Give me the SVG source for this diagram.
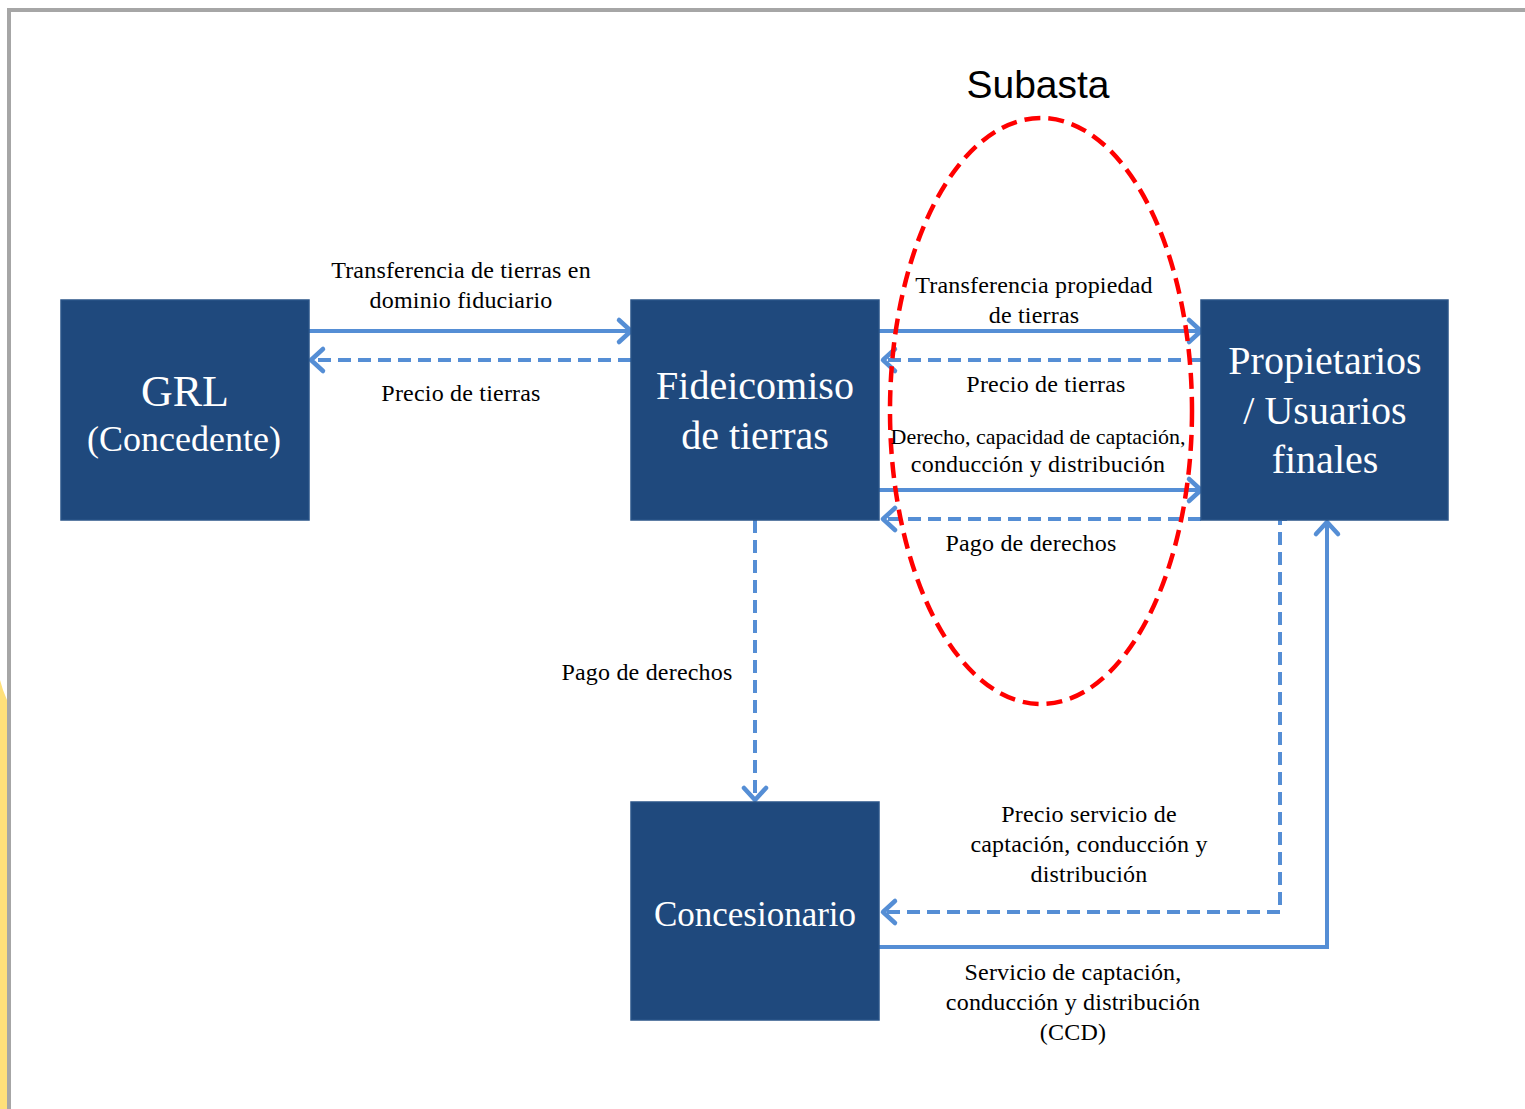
<svg xmlns="http://www.w3.org/2000/svg" width="1525" height="1109" viewBox="0 0 1525 1109">
<defs>
<marker id="ah" markerUnits="userSpaceOnUse" markerWidth="30" markerHeight="30" viewBox="-16 -15 20 30" refX="0" refY="0" orient="auto">
<path d="M-12,-11 L0,0 L-12,11" fill="none" stroke="#558ED5" stroke-width="4.5" stroke-linecap="round" stroke-linejoin="round"/>
</marker>
</defs>
<style>
.box{fill:#1F497D;stroke:#2a5488;stroke-width:1.5}
.bt{font-family:"Liberation Serif","Times New Roman",serif;fill:#ffffff;text-anchor:middle}
.lb{font-family:"Liberation Serif","Times New Roman",serif;fill:#000000;font-size:24px;letter-spacing:0.2px;text-anchor:middle}
.lb.sm{font-size:22px;letter-spacing:0}
.c{fill:none;stroke:#558ED5;stroke-width:4}
.d{stroke-dasharray:13 7}
</style>
<rect x="0" y="0" width="1525" height="1109" fill="#ffffff"/>
<path d="M0,680 L3,690 L7,700 L7,1109 L0,1109 Z" fill="#FFE07A"/>
<path d="M9,1109 L9,10 L1525,10" fill="none" stroke="#a6a6a6" stroke-width="4"/>
<g id="connectors">
<line class="c" x1="309" y1="331" x2="631" y2="331" marker-end="url(#ah)"/>
<line class="c d" x1="631" y1="360" x2="311" y2="360" marker-end="url(#ah)"/>
<line class="c" x1="879" y1="331" x2="1201" y2="331" marker-end="url(#ah)"/>
<line class="c d" x1="1201" y1="360" x2="883" y2="360" marker-end="url(#ah)"/>
<line class="c" x1="879" y1="490" x2="1201" y2="490" marker-end="url(#ah)"/>
<line class="c d" x1="1201" y1="519" x2="883" y2="519" marker-end="url(#ah)"/>
<line class="c d" x1="755" y1="520" x2="755" y2="800" marker-end="url(#ah)"/>
<polyline class="c d" points="1287,519 1280,519 1280,912 883,912" marker-end="url(#ah)"/>
<polyline class="c" points="879,947 1327,947 1327,522" marker-end="url(#ah)"/>
</g>
<g id="subasta">
<ellipse cx="1041" cy="411" rx="151" ry="293" fill="none" stroke="#FF0000" stroke-width="4.5" stroke-dasharray="16 8"/>
<text x="1038" y="98" font-family="Liberation Sans, Arial, sans-serif" font-size="39" text-anchor="middle" fill="#000">Subasta</text>
</g>
<g id="grl">
<rect class="box" x="61" y="300" width="248" height="220"/>
<text class="bt" x="185" y="406" font-size="44">GRL</text>
<text class="bt" x="184" y="451" font-size="36">(Concedente)</text>
</g>
<g id="fideicomiso">
<rect class="box" x="631" y="300" width="248" height="220"/>
<text class="bt" x="755" y="399" font-size="40">Fideicomiso</text>
<text class="bt" x="755" y="449" font-size="40">de tierras</text>
</g>
<g id="propietarios">
<rect class="box" x="1201" y="300" width="247" height="220"/>
<text class="bt" x="1325" y="374" font-size="40">Propietarios</text>
<text class="bt" x="1325" y="424" font-size="40">/ Usuarios</text>
<text class="bt" x="1325" y="473" font-size="40">finales</text>
</g>
<g id="concesionario">
<rect class="box" x="631" y="802" width="248" height="218"/>
<text class="bt" x="755" y="926" font-size="35">Concesionario</text>
</g>
<g id="labels">
<text class="lb" x="461" y="278">Transferencia de tierras en</text>
<text class="lb" x="461" y="308">dominio fiduciario</text>
<text class="lb" x="461" y="401">Precio de tierras</text>
<text class="lb" x="1034" y="293">Transferencia propiedad</text>
<text class="lb" x="1034" y="323">de tierras</text>
<text class="lb" x="1046" y="392">Precio de tierras</text>
<text class="lb sm" x="1038" y="444">Derecho, capacidad  de captación,</text>
<text class="lb" x="1038" y="472">conducción y distribución</text>
<text class="lb" x="1031" y="551">Pago de derechos</text>
<text class="lb" x="647" y="680">Pago de derechos</text>
<text class="lb" x="1089" y="822">Precio servicio  de</text>
<text class="lb" x="1089" y="852">captación, conducción y</text>
<text class="lb" x="1089" y="882">distribución</text>
<text class="lb" x="1073" y="980">Servicio de captación,</text>
<text class="lb" x="1073" y="1010">conducción y distribución</text>
<text class="lb" x="1073" y="1040">(CCD)</text>
</g>
</svg>
